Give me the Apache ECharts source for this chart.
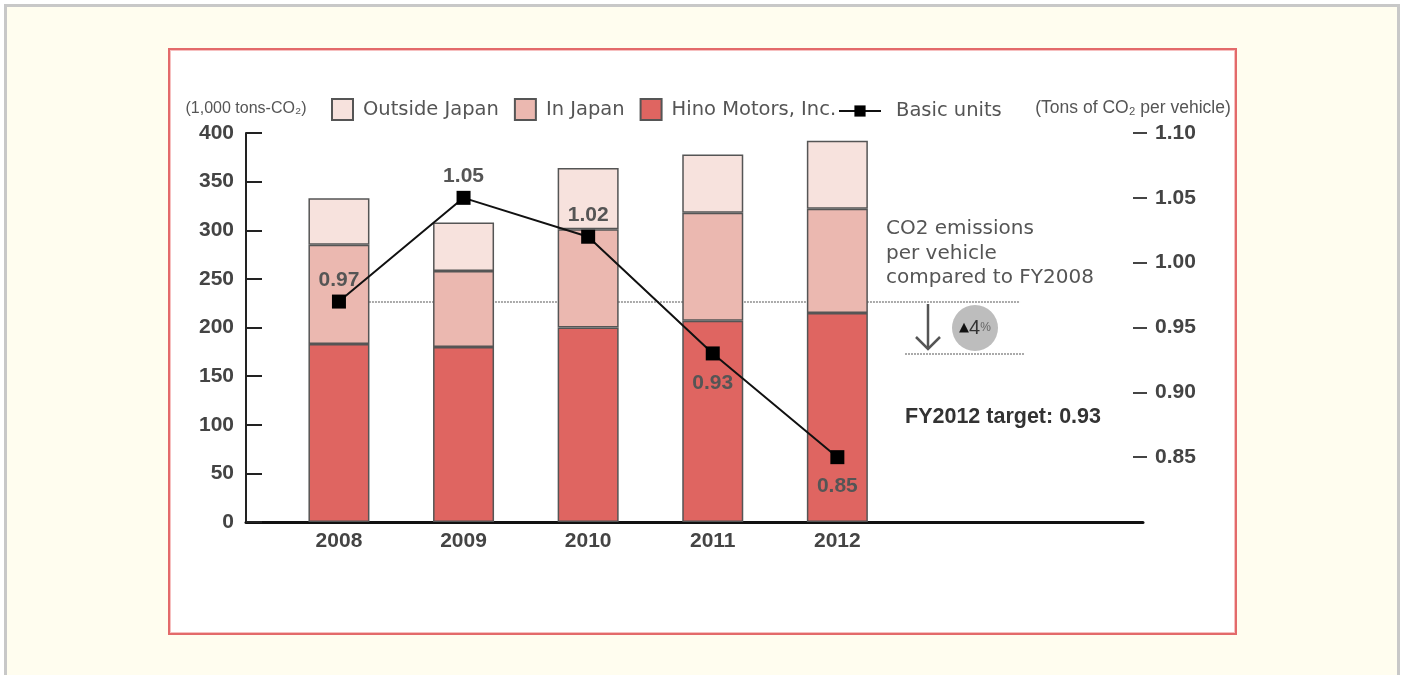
<!DOCTYPE html>
<html><head><meta charset="utf-8">
<script src="https://cdn.jsdelivr.net/npm/echarts@6/dist/echarts.min.js"></script>
<style>
html,body{margin:0;padding:0;width:1401px;height:675px;overflow:hidden;background:#fff;}
#frame{position:absolute;left:4px;top:4px;width:1390px;height:720px;border:3px solid #c8c8c8;border-bottom:none;background:#fffdef;}
#box{position:absolute;left:168px;top:48px;width:1065px;height:583px;border:2px solid #e36a6a;box-shadow:inset 0 0 0 1px #f6c0c0;background:#fff;}
#chart{position:absolute;left:0;top:0;width:1401px;height:675px;}
</style></head><body>
<div id="frame"></div><div id="box"></div><div id="chart"></div>
<script>
const years = [2008, 2009, 2010, 2011, 2012];
const hino = [183, 180, 200, 207, 215];
const inJapan = [102, 78, 101, 111, 107];
const outside = [48, 50, 63, 60, 70];
const basicUnits = [0.97, 1.05, 1.02, 0.93, 0.85];
const rightTicks = [0.85, 0.90, 0.95, 1.00, 1.05, 1.10];
const baseline = 0.97;   // FY2008 value
const target = 0.93;     // FY2012 target
const reduction = '4';

const FONT = '"Liberation Sans", Arial, sans-serif';
const WIDE = '"DejaVu Sans", sans-serif';
const chart = echarts.init(document.getElementById('chart'), null, {renderer: 'canvas'});

// value first, year second (encode maps them), so the library stacks the values
const pair = arr => arr.map((v, i) => [v, years[i]]);

const barStyle = c => ({color: c, borderColor: '#555', borderWidth: 1.5});

const option = {
  backgroundColor: 'transparent',
  animation: false,
  textStyle: {fontFamily: FONT},
  grid: {left: 246, right: 258, top: 133, bottom: 153},
  legend: [{
    data: ['Outside Japan', 'In Japan', 'Hino Motors, Inc.'],
    icon: 'rect', padding: 0,
    left: 331, top: 98, itemWidth: 21, itemHeight: 21, itemGap: 15,
    textStyle: {fontSize: 19.5, color: '#555', fontFamily: WIDE, padding: [0, 0, 0, 5]}
  }, {
    data: ['Basic units'], padding: 0,
    left: 838, top: 101, itemWidth: 42, itemHeight: 14,
    textStyle: {fontSize: 19.5, color: '#555', fontFamily: WIDE, padding: [0, 0, 0, 10]}
  }],
  xAxis: {
    type: 'value', min: 2007.254, max: 2014.453,
    splitLine: {show: false},
    axisLine: {show: true, lineStyle: {color: '#111', width: 3}},
    axisTick: {show: false},
    axisLabel: {customValues: years, formatter: v => String(v), fontSize: 21, fontWeight: 'bold', color: '#444', margin: 9}
  },
  yAxis: [{
    type: 'value', min: 0, max: 400, interval: 50,
    name: '(1,000 tons-CO₂)', nameLocation: 'end', nameGap: 16,
    nameTextStyle: {fontSize: 16, color: '#555', align: 'center'},
    splitLine: {show: false},
    axisLine: {show: true, lineStyle: {color: '#222', width: 2}},
    axisTick: {show: true, inside: true, length: 16, lineStyle: {color: '#222', width: 2}},
    axisLabel: {fontSize: 21, fontWeight: 'bold', color: '#444', margin: 12}
  }, {
    type: 'value', min: 0.80, max: 1.10, interval: 0.05, position: 'right', offset: -10,
    name: '(Tons of CO₂ per vehicle)', nameLocation: 'end', nameGap: 16,
    nameTextStyle: {fontSize: 17.5, color: '#555', align: 'center'},
    splitLine: {show: false},
    axisLine: {show: false},
    axisTick: {show: true, customValues: rightTicks, length: 14, lineStyle: {color: '#444', width: 2}},
    axisLabel: {customValues: rightTicks, formatter: v => v.toFixed(2), fontSize: 21, fontWeight: 'bold', color: '#444', margin: 22}
  }],
  series: [{
    name: 'Hino Motors, Inc.', type: 'bar', stack: 'total', barWidth: 61,
    data: pair(hino), encode: {x: 1, y: 0},
    itemStyle: barStyle('#df6561')
  }, {
    name: 'In Japan', type: 'bar', stack: 'total', barWidth: 61,
    data: pair(inJapan), encode: {x: 1, y: 0},
    itemStyle: barStyle('#ebb8b0')
  }, {
    name: 'Outside Japan', type: 'bar', stack: 'total', barWidth: 61,
    data: pair(outside), encode: {x: 1, y: 0},
    itemStyle: barStyle('#f7e2dd')
  }, {
    name: 'Basic units', type: 'line', yAxisIndex: 1, z: 10,
    data: basicUnits.map((v, i) => {
      const below = v < 0.95;
      return {value: [years[i], v], label: {position: below ? 'bottom' : 'top', distance: below ? 12 : 4}};
    }),
    symbol: 'rect', symbolSize: 14,
    itemStyle: {color: '#000'},
    lineStyle: {color: '#111', width: 2},
    label: {show: true, formatter: p => p.value[1].toFixed(2), fontSize: 21, fontWeight: 'bold', color: '#555'},
    markLine: {
      silent: true, symbol: 'none', z: 1,
      lineStyle: {color: '#aaa', type: [2, 1], width: 2},
      label: {show: false},
      emphasis: {disabled: true},
      data: [
        [{coord: [years[0], baseline]}, {coord: [2013.466, baseline]}],
        [{coord: [2012.543, target]}, {coord: [2013.506, target]}]
      ]
    }
  }],
  graphic: [
    {type: 'text', left: 886, top: 217,
     style: {text: 'CO2 emissions\nper vehicle\ncompared to FY2008', font: '20px ' + WIDE, fill: '#555', lineHeight: 24.5}},
    {type: 'line', shape: {x1: 928, y1: 304, x2: 928, y2: 349}, style: {stroke: '#555', lineWidth: 2.5}},
    {type: 'polyline', shape: {points: [[916, 337], [928, 349], [940, 337]]}, style: {stroke: '#555', lineWidth: 2.5, fill: null}},
    {type: 'circle', shape: {cx: 975, cy: 328, r: 23}, style: {fill: '#bdbdbd'}},
    {type: 'text', x: 975, y: 328,
     style: {text: '{a|▲}{b|' + reduction + '}{c|%}', align: 'center', verticalAlign: 'middle',
       rich: {a: {fontSize: 13, fill: '#111', fontFamily: WIDE}, b: {fontSize: 20, fill: '#333', fontFamily: FONT}, c: {fontSize: 12, fill: '#666', fontFamily: FONT}}}},
    {type: 'text', left: 905, top: 406,
     style: {text: 'FY2012 target: ' + target.toFixed(2), font: 'bold 21.5px ' + FONT, fill: '#333'}}
  ]
};
chart.setOption(option);
</script>
</body></html>
